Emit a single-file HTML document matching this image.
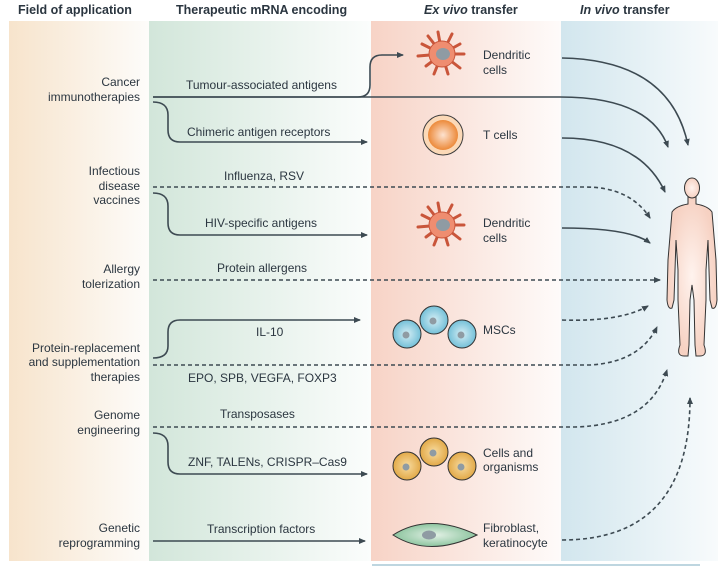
<!DOCTYPE html>
<html><head><meta charset="utf-8"><style>
html,body{margin:0;padding:0;background:#fff;}
svg{display:block;font-family:"Liberation Sans",sans-serif;}
text{fill:#2b3640;font-size:12px;}
.h{font-weight:bold;font-size:12.5px;}
</style></head><body>
<svg width="724" height="566" viewBox="0 0 724 566" xmlns="http://www.w3.org/2000/svg">
<defs>
<linearGradient id="g1"><stop offset="0" stop-color="#f7e4cc"/><stop offset="1" stop-color="#fdfcfa"/></linearGradient>
<linearGradient id="g2"><stop offset="0" stop-color="#d2e6da"/><stop offset="1" stop-color="#fbfdfc"/></linearGradient>
<linearGradient id="g3"><stop offset="0" stop-color="#f7d3c6"/><stop offset="1" stop-color="#fefbfa"/></linearGradient>
<linearGradient id="g4"><stop offset="0" stop-color="#d2e6ee"/><stop offset="1" stop-color="#f8fbfc"/></linearGradient>
<radialGradient id="tc"><stop offset="0" stop-color="#fde2cf"/><stop offset="1" stop-color="#ec8a3a"/></radialGradient>
<radialGradient id="msc"><stop offset="0" stop-color="#d5eef5"/><stop offset="1" stop-color="#74c0d8"/></radialGradient>
<radialGradient id="yc"><stop offset="0" stop-color="#f8dca0"/><stop offset="1" stop-color="#e2a948"/></radialGradient>
<radialGradient id="fb"><stop offset="0" stop-color="#e3f1e6"/><stop offset="1" stop-color="#8cc49e"/></radialGradient>
<radialGradient id="hb"><stop offset="0" stop-color="#fff3ee"/><stop offset="1" stop-color="#f6d1c2"/></radialGradient>
<marker id="a" markerWidth="8" markerHeight="8" refX="6" refY="4" orient="auto" markerUnits="userSpaceOnUse"><path d="M0,1 L7,4 L0,7 Z" fill="#3d4a52"/></marker>
<g id="dc">
<g stroke="#c9553a" stroke-width="3" stroke-linecap="round" fill="none">
<path d="M0,0 L-20,-10 M0,0 L-16,12 M0,0 L-8,20 M0,0 L6,20 M0,0 L18,14 M0,0 L22,0 M0,0 L18,-10 M0,0 L10,-20 M0,0 L-4,-22 M0,0 L-14,-18 M0,0 L-24,2"/>
</g>
<circle r="13" fill="#ef8d70" stroke="#c9553a" stroke-width="1"/>
<ellipse cx="1" cy="0" rx="7" ry="6" fill="#8f9ba3"/>
</g>
</defs>
<text class="h" x="18" y="14">Field of application</text>
<text class="h" x="176" y="14">Therapeutic mRNA encoding</text>
<text class="h" x="424" y="14"><tspan font-style="italic">Ex vivo</tspan> transfer</text>
<text class="h" x="580" y="14"><tspan font-style="italic">In vivo</tspan> transfer</text>
<rect x="9" y="21" width="140" height="540" fill="url(#g1)"/>
<rect x="149" y="21" width="222" height="540" fill="url(#g2)"/>
<rect x="371" y="21" width="190" height="540" fill="url(#g3)"/>
<rect x="561" y="21" width="157" height="540" fill="url(#g4)"/>
<line x1="372" y1="565" x2="700" y2="565" stroke="#a9c9d6" stroke-width="1.5"/>

<g text-anchor="end">
<text x="140" y="86">Cancer</text><text x="140" y="101">immunotherapies</text>
<text x="140" y="175">Infectious</text><text x="140" y="190">disease</text><text x="140" y="204">vaccines</text>
<text x="140" y="273">Allergy</text><text x="140" y="288">tolerization</text>
<text x="140" y="352">Protein-replacement</text><text x="140" y="366">and supplementation</text><text x="140" y="381">therapies</text>
<text x="140" y="419">Genome</text><text x="140" y="434">engineering</text>
<text x="140" y="532">Genetic</text><text x="140" y="547">reprogramming</text>
</g>
<text x="186" y="89">Tumour-associated antigens</text>
<text x="187" y="136">Chimeric antigen receptors</text>
<text x="224" y="180">Influenza, RSV</text>
<text x="205" y="227">HIV-specific antigens</text>
<text x="217" y="272">Protein allergens</text>
<text x="256" y="336">IL-10</text>
<text x="188" y="382">EPO, SPB, VEGFA, FOXP3</text>
<text x="220" y="418">Transposases</text>
<text x="188" y="466">ZNF, TALENs, CRISPR–Cas9</text>
<text x="207" y="533">Transcription factors</text>

<text x="483" y="59">Dendritic</text><text x="483" y="74">cells</text>
<text x="483" y="139">T cells</text>
<text x="483" y="227">Dendritic</text><text x="483" y="242">cells</text>
<text x="483" y="334">MSCs</text>
<text x="483" y="457">Cells and</text><text x="483" y="471">organisms</text>
<text x="483" y="532">Fibroblast,</text><text x="483" y="547">keratinocyte</text>

<g fill="none" stroke="#3d4a52" stroke-width="1.6">
<path d="M153,97 H358 Q370,97 370,85 V67 Q370,55 382,55 H403" marker-end="url(#a)"/>
<path d="M153,97 H560 Q650,97 668,147" marker-end="url(#a)"/>
<path d="M153,102 Q168,102 168,115 V130 Q168,142 180,142 H367" marker-end="url(#a)"/>
<path d="M562,58 Q670,60 688,145" marker-end="url(#a)"/>
<path d="M562,138 Q640,138 665,192" marker-end="url(#a)"/>
<path d="M153,193 Q168,193 168,206 V223 Q168,235 180,235 H367" marker-end="url(#a)"/>
<path d="M562,228 Q630,228 650,243" marker-end="url(#a)"/>
<path d="M153,358 Q168,358 168,346 V332 Q168,320 180,320 H360" marker-end="url(#a)"/>
<path d="M153,433 Q168,433 168,446 V462 Q168,474 180,474 H367" marker-end="url(#a)"/>
<path d="M153,541 H365" marker-end="url(#a)"/>
</g>
<g fill="none" stroke="#3d4a52" stroke-width="1.6" stroke-dasharray="4,3">
<path d="M153,187 H585 Q630,187 650,218" marker-end="url(#a)"/>
<path d="M153,280 H660" marker-end="url(#a)"/>
<path d="M562,320 Q620,322 648,306" marker-end="url(#a)"/>
<path d="M153,365 H590 Q640,362 657,327" marker-end="url(#a)"/>
<path d="M153,427 H575 Q650,425 667,370" marker-end="url(#a)"/>
<path d="M562,540 Q690,540 690,398" marker-end="url(#a)"/>
</g>

<use href="#dc" x="442" y="54"/>
<use href="#dc" x="442" y="225"/>
<circle cx="443" cy="135" r="20" fill="#fbd9b7" stroke="#3d3d3d" stroke-width="1"/>
<circle cx="443" cy="135" r="15" fill="url(#tc)"/>
<g stroke="#333" stroke-width="1">
<circle cx="407" cy="334" r="14" fill="url(#msc)"/><circle cx="434" cy="320" r="14" fill="url(#msc)"/><circle cx="462" cy="334" r="14" fill="url(#msc)"/>
<circle cx="407" cy="466" r="14" fill="url(#yc)"/><circle cx="434" cy="452" r="14" fill="url(#yc)"/><circle cx="462" cy="466" r="14" fill="url(#yc)"/>
</g>
<g fill="#8f9ba3"><circle cx="406" cy="335" r="3.5"/><circle cx="433" cy="321" r="3.5"/><circle cx="461" cy="335" r="3.5"/>
<circle cx="406" cy="467" r="3.5"/><circle cx="433" cy="453" r="3.5"/><circle cx="461" cy="467" r="3.5"/></g>
<path d="M393,535 Q429,512 477,535 Q429,558 393,535 Z" fill="url(#fb)" stroke="#333" stroke-width="1"/>
<ellipse cx="429" cy="535" rx="7" ry="4.5" fill="#8f9ba3"/>

<g fill="url(#hb)" stroke="#333" stroke-width="1">
<path d="M688,196 L688,204 Q676,206 672,212 L668,260 L667,300 Q668,310 672,308 L674,300 L676,240 L678,270 L678,300 L680,345 Q676,356 684,356 L688,356 L689,345 L690,300 L692,285 L694,300 L695,345 L696,356 L700,356 Q708,356 704,345 L706,300 L706,270 L708,240 L710,300 L712,308 Q716,310 717,300 L716,260 L712,212 Q708,206 696,204 L696,196 Z"/>
<ellipse cx="692" cy="188" rx="7.5" ry="10"/>
</g>
</svg>
</body></html>
